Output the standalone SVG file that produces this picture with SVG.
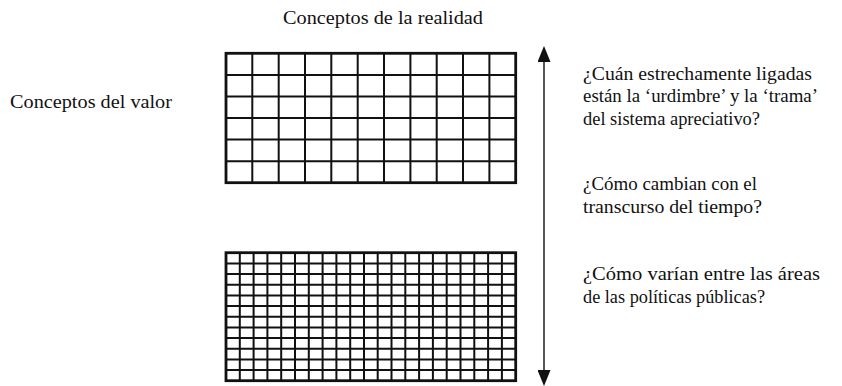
<svg xmlns="http://www.w3.org/2000/svg" width="842" height="386" viewBox="0 0 842 386">
  <style>
    .bg { fill: #ffffff; }
    .lbl { font-family: "Liberation Serif", "DejaVu Serif", serif; font-size: 18px; fill: #111111; }
    .frame { fill: none; stroke: #111111; stroke-width: 2.8; }
    .grid { fill: none; stroke: #111111; stroke-width: 2; }
    .shaft { fill: none; stroke: #111111; stroke-width: 1.4; }
  </style>
  <defs>
    <marker id="head" viewBox="0 0 16 13" refX="0" refY="6.5" markerWidth="16" markerHeight="13" markerUnits="userSpaceOnUse" orient="auto-start-reverse">
      <path d="M0,0 L16,6.5 L0,13 Z" fill="#111111"/>
    </marker>
  </defs>
  <rect class="bg" x="0" y="0" width="842" height="386"/>

  <g id="label-reality">
    <text class="lbl" x="283" y="24" textLength="200" lengthAdjust="spacingAndGlyphs">Conceptos de la realidad</text>
  </g>
  <g id="label-value">
    <text class="lbl" x="10" y="108" textLength="162" lengthAdjust="spacingAndGlyphs">Conceptos del valor</text>
  </g>

  <g id="grid-coarse">
    <path class="grid" d="M252.3,53.3V182.7 M278.7,53.3V182.7 M305.0,53.3V182.7 M331.3,53.3V182.7 M357.7,53.3V182.7 M384.0,53.3V182.7 M410.4,53.3V182.7 M436.7,53.3V182.7 M463.0,53.3V182.7 M489.4,53.3V182.7 M226,74.9H515.7 M226,96.4H515.7 M226,118.0H515.7 M226,139.6H515.7 M226,161.2H515.7"/>
    <rect class="frame" x="226" y="53.3" width="289.7" height="129.4"/>
  </g>

  <g id="grid-fine">
    <path class="grid" d="M239.8,252.7V380.7 M253.6,252.7V380.7 M267.4,252.7V380.7 M281.2,252.7V380.7 M295.0,252.7V380.7 M308.8,252.7V380.7 M322.6,252.7V380.7 M336.4,252.7V380.7 M350.2,252.7V380.7 M364.0,252.7V380.7 M377.7,252.7V380.7 M391.5,252.7V380.7 M405.3,252.7V380.7 M419.1,252.7V380.7 M432.9,252.7V380.7 M446.7,252.7V380.7 M460.5,252.7V380.7 M474.3,252.7V380.7 M488.1,252.7V380.7 M501.9,252.7V380.7 M226,263.4H515.7 M226,274.0H515.7 M226,284.7H515.7 M226,295.4H515.7 M226,306.0H515.7 M226,316.7H515.7 M226,327.4H515.7 M226,338.0H515.7 M226,348.7H515.7 M226,359.4H515.7 M226,370.0H515.7"/>
    <rect class="frame" x="226" y="252.7" width="289.7" height="128"/>
  </g>

  <g id="connectors">
    <path class="shaft" d="M544,62 V370" marker-start="url(#head)" marker-end="url(#head)"/>
  </g>

  <g id="question-weave">
    <text class="lbl" x="583" y="80" textLength="229" lengthAdjust="spacingAndGlyphs">¿Cuán estrechamente ligadas</text>
    <text class="lbl" x="583" y="102" textLength="235" lengthAdjust="spacingAndGlyphs">están la ‘urdimbre’ y la ‘trama’</text>
    <text class="lbl" x="583" y="125" textLength="177" lengthAdjust="spacingAndGlyphs">del sistema apreciativo?</text>
  </g>
  <g id="question-time">
    <text class="lbl" x="583" y="190" textLength="174" lengthAdjust="spacingAndGlyphs">¿Cómo cambian con el</text>
    <text class="lbl" x="583" y="213" textLength="179" lengthAdjust="spacingAndGlyphs">transcurso del tiempo?</text>
  </g>
  <g id="question-areas">
    <text class="lbl" x="583" y="280" textLength="237" lengthAdjust="spacingAndGlyphs">¿Cómo varían entre las áreas</text>
    <text class="lbl" x="583" y="303" textLength="182" lengthAdjust="spacingAndGlyphs">de las políticas públicas?</text>
  </g>
</svg>
